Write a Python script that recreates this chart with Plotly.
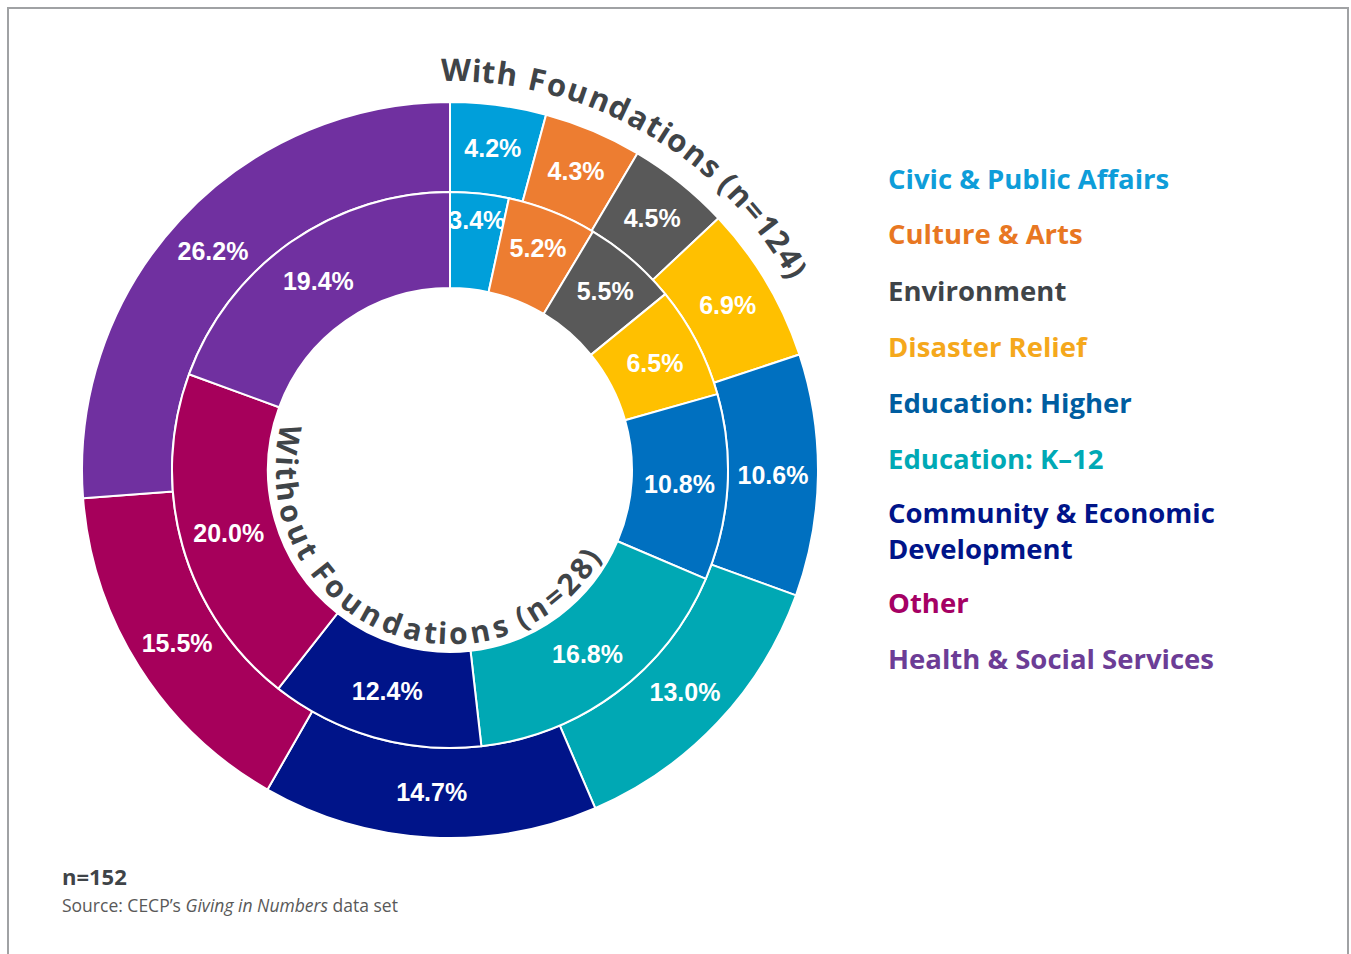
import math
import plotly.graph_objects as go

W, H = 1351, 954

categories = [
    "Civic & Public Affairs",
    "Culture & Arts",
    "Environment",
    "Disaster Relief",
    "Education: Higher",
    "Education: K-12",
    "Community & Economic Development",
    "Other",
    "Health & Social Services",
]
legend_labels = [
    "Civic & Public Affairs",
    "Culture & Arts",
    "Environment",
    "Disaster Relief",
    "Education: Higher",
    "Education: K–12",
    "Community & Economic<br>Development",
    "Other",
    "Health & Social Services",
]
with_foundations = [4.2, 4.3, 4.5, 6.9, 10.6, 13.0, 14.7, 15.5, 26.2]
without_foundations = [3.4, 5.2, 5.5, 6.5, 10.8, 16.8, 12.4, 20.0, 19.4]

slice_colors = ["#009FDA", "#ED7D31", "#595959", "#FFC000", "#0070C0",
                "#00A8B4", "#001489", "#A6005B", "#7030A0"]
legend_colors = ["#0E9DD9", "#E87722", "#3F4448", "#F5A81C", "#005DA0",
                 "#00A9B5", "#001489", "#A50064", "#6C3D96"]

outer_title = "With Foundations (n=124)"
inner_title = "Without Foundations (n=28)"

# geometry (pixels)
cx, cy = 450, 470
r_outer, r_mid, r_hole = 368, 278, 182
title_font = "Open Sans"
dark = "#3F4448"


def px(x):
    return x / W


def py(y):
    return 1 - y / H


fig = go.Figure()

fig.add_trace(go.Pie(
    values=with_foundations,
    labels=categories,
    text=[f"<b>{v:.1f}%</b>" for v in with_foundations],
    textinfo="text",
    textposition="inside",
    insidetextorientation="horizontal",
    sort=False,
    direction="clockwise",
    rotation=0,
    hole=r_mid / r_outer,
    marker=dict(colors=slice_colors, line=dict(color="white", width=2)),
    textfont=dict(family="Liberation Sans, Arial", size=25, color="white"),
    domain=dict(x=[px(cx - r_outer), px(cx + r_outer)],
                y=[py(cy + r_outer), py(cy - r_outer)]),
    showlegend=False,
    hoverinfo="label+text",
))

fig.add_trace(go.Pie(
    values=without_foundations,
    labels=categories,
    text=[f"<b>{v:.1f}%</b>" for v in without_foundations],
    textinfo="text",
    textposition="inside",
    insidetextorientation="horizontal",
    sort=False,
    direction="clockwise",
    rotation=0,
    hole=r_hole / r_mid,
    marker=dict(colors=slice_colors, line=dict(color="white", width=2)),
    textfont=dict(family="Liberation Sans, Arial", size=25, color="white"),
    domain=dict(x=[px(cx - r_mid), px(cx + r_mid)],
                y=[py(cy + r_mid), py(cy - r_mid)]),
    showlegend=False,
    hoverinfo="label+text",
))

# rough bold advance widths (em) for arc text
char_w = {"W": 0.93, "i": 0.29, "t": 0.42, "h": 0.66, " ": 0.26, "F": 0.57,
          "o": 0.62, "u": 0.66, "n": 0.66, "d": 0.65, "a": 0.60, "s": 0.50,
          "(": 0.33, ")": 0.33, "=": 0.57}


def arc_text(text, radius, a_start, a_end, inward, size):
    widths = [char_w.get(c, 0.57) for c in text]
    centers = []
    acc = 0
    for w in widths:
        centers.append(acc + w / 2)
        acc += w
    s0, s1 = centers[0], centers[-1]
    for c, s in zip(text, centers):
        if c == " ":
            continue
        ang = a_start + (a_end - a_start) * (s - s0) / (s1 - s0)
        t = math.radians(ang)
        x = cx + radius * math.sin(t)
        y = cy - radius * math.cos(t)
        fig.add_annotation(
            x=px(x), y=py(y), xref="paper", yref="paper",
            text=f"<b>{c}</b>", showarrow=False,
            xanchor="center", yanchor="middle",
            textangle=(ang - 180) if inward else ang,
            font=dict(family=title_font, size=size, color=dark),
        )


arc_text(outer_title, 401, 0.8, 60.2, False, 31)
arc_text(inner_title, 163, 280.6, 121.6, True, 30)

# legend text
legend_y = [178, 234, 290, 346, 402, 458, 530, 602, 658]
for lab, col, y in zip(legend_labels, legend_colors, legend_y):
    fig.add_annotation(
        x=px(886), y=py(y), xref="paper", yref="paper",
        text=f"<b>{lab}</b>", showarrow=False, align="left",
        xanchor="left", yanchor="middle",
        font=dict(family=title_font, size=27.5, color=col),
    )

fig.add_annotation(
    x=px(60), y=py(876), xref="paper", yref="paper",
    text="<b>n=152</b>", showarrow=False, xanchor="left", yanchor="middle",
    font=dict(family=title_font, size=22, color=dark),
)
fig.add_annotation(
    x=px(60), y=py(905), xref="paper", yref="paper",
    text="Source: CECP’s <i>Giving in Numbers</i> data set", showarrow=False,
    xanchor="left", yanchor="middle",
    font=dict(family=title_font, size=17.5, color="#595959"),
)

# frame
fig.add_shape(type="path", xref="paper", yref="paper",
              path=f"M {px(8)} 0 L {px(8)} {py(8)} L {px(1348)} {py(8)} L {px(1348)} 0",
              line=dict(color="#A0A2A4", width=2))

fig.update_layout(
    width=W, height=H,
    margin=dict(l=0, r=0, t=0, b=0),
    paper_bgcolor="white",
    plot_bgcolor="white",
    uniformtext=dict(minsize=25, mode="show"),
)

fig.write_html("out.html", config={"displayModeBar": False},
               post_script="document.body.style.margin='0';")
